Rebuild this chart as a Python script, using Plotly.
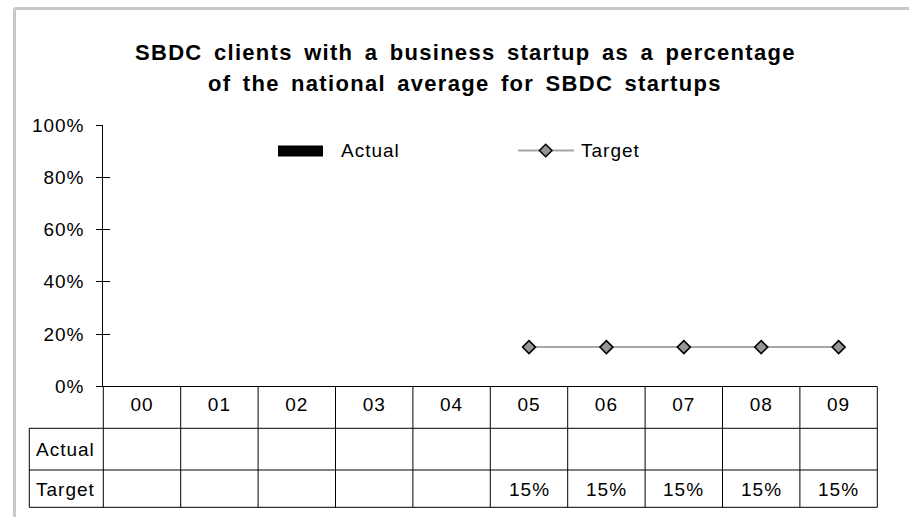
import plotly.graph_objects as go

# ---------------- data ----------------
years = ["00", "01", "02", "03", "04", "05", "06", "07", "08", "09"]
actual = [None, None, None, None, None, None, None, None, None, None]
target = [None, None, None, None, None, 0.15, 0.15, 0.15, 0.15, 0.15]
y_ticks = [0, 0.2, 0.4, 0.6, 0.8, 1.0]
series_names = ["Actual", "Target"]
title_lines = [
    "SBDC clients with a business startup as a percentage",
    "of the national average for SBDC startups",
]

# ---------------- layout helpers ----------------
W, H = 909, 517
FONT = "Liberation Sans, Arial, Helvetica, sans-serif"


def px(x):
    return x / W


def py(y):
    return 1 - y / H


def sp(t, ls=1.0, ws=0):
    style = f"letter-spacing:{ls}px"
    if ws:
        style += f";word-spacing:{ws}px"
    return f'<span style="{style}">{t}</span>'


X0, X1 = 103.3, 877.3          # plot area left/right (px)
Y0, Y100 = 386.3, 125.0        # 0% and 100% (px)
ROW1, ROW2, ROW3 = 428.3, 470.0, 507.3
LBL_X = 29.3
COLW = (X1 - X0) / len(years)

fig = go.Figure()
fig.add_trace(go.Bar(x=years, y=actual, name=series_names[0], yaxis="y2",
                     marker_color="black", showlegend=False))
fig.add_trace(go.Scatter(
    x=years, y=target, name=series_names[1], mode="lines+markers",
    line=dict(color="#a6a6a6", width=2),
    marker=dict(symbol="diamond", size=10, color="#969696",
                line=dict(color="black", width=1.5)),
    showlegend=False, cliponaxis=False))

shapes = []
line_k = dict(color="black", width=1)
# table vertical lines
for i in range(len(years) + 1):
    x = X0 + i * COLW
    shapes.append(dict(type="line", xref="paper", yref="paper",
                       x0=px(x), x1=px(x), y0=py(Y0), y1=py(ROW3), line=line_k))
shapes.append(dict(type="line", xref="paper", yref="paper",
                   x0=px(LBL_X), x1=px(LBL_X), y0=py(ROW1), y1=py(ROW3), line=line_k))
for yy in (ROW1, ROW2, ROW3):
    shapes.append(dict(type="line", xref="paper", yref="paper",
                       x0=px(LBL_X), x1=px(X1), y0=py(yy), y1=py(yy), line=line_k))
# outer chart border (top/left visible)
border = dict(color="#c8c8c8", width=3)
shapes.append(dict(type="line", xref="paper", yref="paper",
                   x0=px(14.5), x1=1, y0=py(8.5), y1=py(8.5), line=border))
shapes.append(dict(type="line", xref="paper", yref="paper",
                   x0=px(14.5), x1=px(14.5), y0=py(8.5), y1=0, line=border))
# legend: Actual swatch
shapes.append(dict(type="rect", xref="paper", yref="paper",
                   x0=px(278), x1=px(323), y0=py(145.5), y1=py(156.5),
                   fillcolor="black", line=dict(width=0)))
# legend: Target line + diamond
shapes.append(dict(type="line", xref="paper", yref="paper",
                   x0=px(518), x1=px(574), y0=py(150.5), y1=py(150.5),
                   line=dict(color="#a6a6a6", width=2)))
cx, cy, r = 545.7, 150.5, 6.3
shapes.append(dict(type="path", xref="paper", yref="paper",
                   path=f"M {px(cx - r)} {py(cy)} L {px(cx)} {py(cy - r)} "
                        f"L {px(cx + r)} {py(cy)} L {px(cx)} {py(cy + r)} Z",
                   fillcolor="#969696", line=dict(color="black", width=1.5)))

annotations = []
# title
for txt, yy in zip(title_lines, (52, 84)):
    annotations.append(dict(xref="paper", yref="paper", x=px(465), y=py(yy),
                            text="<b>" + sp(txt, 1.3, 4) + "</b>", showarrow=False,
                            xanchor="center", yanchor="middle",
                            font=dict(size=22, family=FONT, color="black")))
# legend texts
annotations.append(dict(xref="paper", yref="paper", x=px(339), y=py(151),
                        text=sp(series_names[0]), showarrow=False,
                        xanchor="left", yanchor="middle"))
annotations.append(dict(xref="paper", yref="paper", x=px(579), y=py(151),
                        text=sp(series_names[1]), showarrow=False,
                        xanchor="left", yanchor="middle"))
# data table row labels and values
for name, vals, yy in zip(series_names, (actual, target), (449, 489)):
    annotations.append(dict(xref="paper", yref="paper", x=px(34), y=py(yy),
                            text=sp(name), showarrow=False,
                            xanchor="left", yanchor="middle"))
    for cat, v in zip(years, vals):
        if v is not None:
            annotations.append(dict(xref="x", yref="paper", x=cat, y=py(yy),
                                    text=sp(f"{v:.0%}"), showarrow=False,
                                    xanchor="center", yanchor="middle"))

fig.update_layout(
    template="none",
    width=W, height=H, autosize=False,
    margin=dict(l=0, r=0, t=0, b=0, pad=0),
    paper_bgcolor="white", plot_bgcolor="white", showlegend=False,
    font=dict(family=FONT, size=19, color="black"),
    xaxis=dict(domain=[px(X0), px(X1)], type="category", automargin=False,
               categoryorder="array", categoryarray=years, range=[-0.5, 9.5],
               showline=True, linecolor="black", linewidth=1, ticks="",
               tickvals=years, ticktext=[sp(y) for y in years],
               showgrid=False, zeroline=False, ticklabelstandoff=1),
    yaxis=dict(domain=[py(Y0), py(Y100)], range=[0, 1], tickvals=y_ticks,
               automargin=False,
               ticktext=[sp(f"{v:.0%}") for v in y_ticks],
               ticks="outside", ticklen=6, tickcolor="black",
               showline=True, linecolor="black", linewidth=1,
               showgrid=False, zeroline=False, ticklabelstandoff=8),
    yaxis2=dict(overlaying="y", anchor="x", side="left", range=[0, 1],
                automargin=False,
                tickvals=y_ticks, ticks="inside", ticklen=7, tickcolor="black",
                showticklabels=False, showline=False, showgrid=False,
                zeroline=False),
    shapes=shapes, annotations=annotations,
    bargap=0.5,
)

fig.write_html(
    "out.html",
    config={"displayModeBar": False},
    post_script="document.body.style.margin='0';document.body.style.overflow='hidden';",
)
